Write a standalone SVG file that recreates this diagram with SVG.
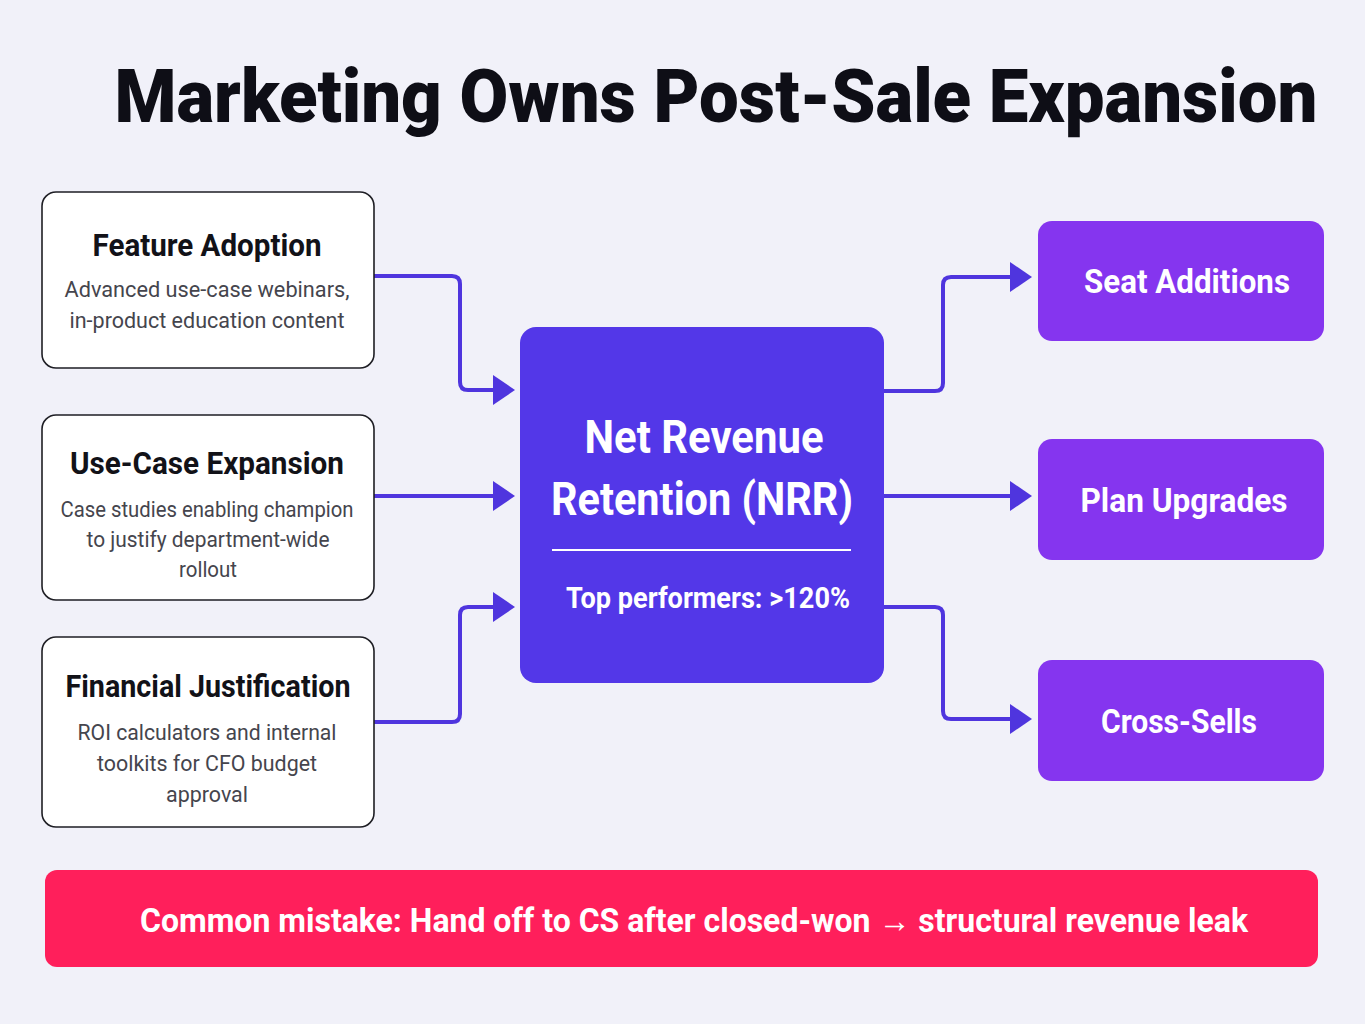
<svg xmlns="http://www.w3.org/2000/svg" width="1365" height="1024" viewBox="0 0 1365 1024">
<defs>
<style>
.bg{fill:#F1F1F9}
.title{font-family:Roboto,"Liberation Sans",sans-serif;font-weight:900;font-size:62px;fill:#0E0E16}
.card{fill:#FFFFFF;stroke:#1E1E24;stroke-width:1.6}
.ch{font-family:Roboto,"Liberation Sans",sans-serif;font-weight:700;font-size:32px;fill:#121218;text-anchor:middle}
.cs{font-family:Roboto,"Liberation Sans",sans-serif;font-weight:400;font-size:22px;fill:#45454D;text-anchor:middle}
.hub{fill:#5337E8}
.ht{font-family:Roboto,"Liberation Sans",sans-serif;font-weight:700;font-size:46px;fill:#FFFFFF;text-anchor:middle}
.hs{font-family:Roboto,"Liberation Sans",sans-serif;font-weight:700;font-size:29px;fill:#FFFFFF;text-anchor:middle}
.out{fill:#8535EF}
.ot{font-family:Roboto,"Liberation Sans",sans-serif;font-weight:700;font-size:33px;fill:#FFFFFF;text-anchor:middle}
.warn{fill:#FF1F5B}
.wt{font-family:Roboto,"Liberation Sans",sans-serif;font-weight:700;font-size:33px;fill:#FFFFFF;text-anchor:middle}
.conn{fill:none;stroke:#4F35DE;stroke-width:4;marker-end:url(#arr)}
</style>
<marker id="arr" viewBox="0 0 22 30" refX="0" refY="15" markerWidth="22" markerHeight="30" markerUnits="userSpaceOnUse" orient="auto">
<path d="M0,0 L22,15 L0,30 Z" fill="#4F35DE"/>
</marker>
</defs>
<rect class="bg" x="0" y="0" width="1365" height="1024"/>
<g id="title" transform="translate(716,122) scale(1,1.2)">
<text class="title" x="0" y="0" text-anchor="middle" textLength="1203" lengthAdjust="spacingAndGlyphs">Marketing Owns Post-Sale Expansion</text>
</g>

<g id="connectors">
<path class="conn" d="M374,276 H452 Q460,276 460,284 V382 Q460,390 468,390 H493"/>
<path class="conn" d="M374,496 H493"/>
<path class="conn" d="M374,722 H452 Q460,722 460,714 V615 Q460,607 468,607 H493"/>
<path class="conn" d="M884,391 H935 Q943,391 943,383 V285 Q943,277 951,277 H1010"/>
<path class="conn" d="M884,496 H1010"/>
<path class="conn" d="M884,607 H935 Q943,607 943,615 V711 Q943,719 951,719 H1010"/>
</g>

<g id="feature-adoption">
<rect class="card" x="42" y="192" width="332" height="176" rx="14"/>
<text class="ch" x="207" y="256" textLength="229" lengthAdjust="spacingAndGlyphs">Feature Adoption</text>
<text class="cs" x="207" y="297" textLength="285" lengthAdjust="spacingAndGlyphs">Advanced use-case webinars,</text>
<text class="cs" x="207" y="328" textLength="275" lengthAdjust="spacingAndGlyphs">in-product education content</text>
</g>

<g id="use-case-expansion">
<rect class="card" x="42" y="415" width="332" height="185" rx="14"/>
<text class="ch" x="207" y="474" textLength="274" lengthAdjust="spacingAndGlyphs">Use-Case Expansion</text>
<text class="cs" x="207" y="517" textLength="293" lengthAdjust="spacingAndGlyphs">Case studies enabling champion</text>
<text class="cs" x="208" y="547" textLength="243" lengthAdjust="spacingAndGlyphs">to justify department-wide</text>
<text class="cs" x="208" y="577" textLength="58" lengthAdjust="spacingAndGlyphs">rollout</text>
</g>

<g id="financial-justification">
<rect class="card" x="42" y="637" width="332" height="190" rx="14"/>
<text class="ch" x="208" y="697" textLength="285" lengthAdjust="spacingAndGlyphs">Financial Justification</text>
<text class="cs" x="207" y="740" textLength="259" lengthAdjust="spacingAndGlyphs">ROI calculators and internal</text>
<text class="cs" x="207" y="771" textLength="220" lengthAdjust="spacingAndGlyphs">toolkits for CFO budget</text>
<text class="cs" x="207" y="802" textLength="82" lengthAdjust="spacingAndGlyphs">approval</text>
</g>

<g id="nrr">
<rect class="hub" x="520" y="327" width="364" height="356" rx="16"/>
<text class="ht" x="704" y="453" textLength="239" lengthAdjust="spacingAndGlyphs">Net Revenue</text>
<text class="ht" x="702" y="515" textLength="302" lengthAdjust="spacingAndGlyphs">Retention (NRR)</text>
<line x1="552" y1="550" x2="851" y2="550" stroke="#FFFFFF" stroke-width="2"/>
<text class="hs" x="708" y="608" textLength="284" lengthAdjust="spacingAndGlyphs">Top performers: &gt;120%</text>
</g>

<g id="seat-additions">
<rect class="out" x="1038" y="221" width="286" height="120" rx="14"/>
<text class="ot" x="1187" y="293" textLength="206" lengthAdjust="spacingAndGlyphs">Seat Additions</text>
</g>

<g id="plan-upgrades">
<rect class="out" x="1038" y="439" width="286" height="121" rx="14"/>
<text class="ot" x="1184" y="512" textLength="207" lengthAdjust="spacingAndGlyphs">Plan Upgrades</text>
</g>

<g id="cross-sells">
<rect class="out" x="1038" y="660" width="286" height="121" rx="14"/>
<text class="ot" x="1179" y="733" textLength="156" lengthAdjust="spacingAndGlyphs">Cross-Sells</text>
</g>

<g id="common-mistake">
<rect class="warn" x="45" y="870" width="1273" height="97" rx="12"/>
<text class="wt" x="694" y="932" textLength="1108" lengthAdjust="spacingAndGlyphs">Common mistake: Hand off to CS after closed-won → structural revenue leak</text>
</g>
</svg>
